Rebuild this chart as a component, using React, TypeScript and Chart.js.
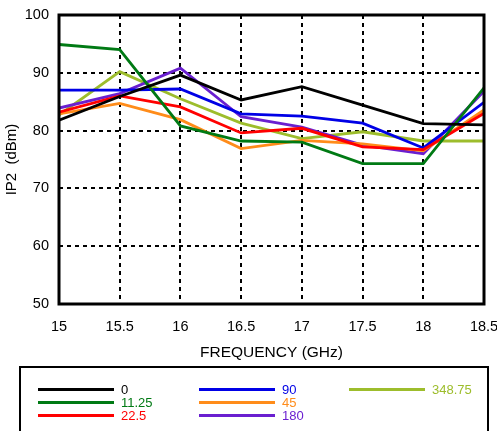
import React, { useEffect, useRef } from "react";
import { Chart, registerables } from "chart.js";

Chart.register(...registerables);

const frequencies = [15, 15.5, 16, 16.5, 17, 17.5, 18, 18.5];
const seriesNames = ["0", "11.25", "22.5", "90", "45", "180", "348.75"];
const seriesColors = ["#000000", "#007a14", "#ff0000", "#0000e6", "#ff8c1a", "#6a1fd0", "#9dbd2c"];
const ip2_0 = [81.8, 85.9, 89.6, 85.3, 87.6, 84.4, 81.2, 81.0];
const ip2_11_25 = [94.9, 94.0, 80.8, 78.2, 78.0, 74.3, 74.3, 87.4];
const ip2_22_5 = [83.2, 86.0, 84.1, 79.6, 80.4, 77.2, 76.7, 83.0];
const ip2_90 = [87.0, 87.0, 87.2, 82.9, 82.5, 81.3, 77.0, 84.9];
const ip2_45 = [82.9, 84.7, 81.9, 76.9, 78.3, 77.7, 76.5, 83.6];
const ip2_180 = [83.9, 86.4, 90.8, 82.4, 80.6, 77.5, 76.0, 86.8];
const ip2_348_75 = [82.7, 90.2, 85.5, 81.3, 78.6, 79.8, 78.2, 78.2];
const seriesValues = [ip2_0, ip2_11_25, ip2_22_5, ip2_90, ip2_45, ip2_180, ip2_348_75];
const xTitle = "FREQUENCY (GHz)";
const yTitle = "IP2  (dBm)";

const FONT = "'Liberation Sans', Arial, Helvetica, sans-serif";

const frameBorder = {
  id: "frameBorder",
  afterDatasetsDraw(chart: any) {
    const { ctx, chartArea } = chart;
    ctx.save();
    ctx.strokeStyle = "#000";
    ctx.lineWidth = 3;
    ctx.strokeRect(chartArea.left, chartArea.top, chartArea.right - chartArea.left, chartArea.bottom - chartArea.top);
    ctx.restore();
  },
};

export default function App() {
  const canvasRef = useRef<HTMLCanvasElement>(null);

  useEffect(() => {
    if (!canvasRef.current) return;
    const chart = new Chart(canvasRef.current, {
      type: "line",
      data: {
        datasets: seriesNames.map((name, i) => ({
          label: name,
          data: frequencies.map((f, j) => ({ x: f, y: seriesValues[i][j] })),
          borderColor: seriesColors[i],
          backgroundColor: seriesColors[i],
          borderWidth: 2.8,
          pointRadius: 0,
          tension: 0,
          fill: false,
        })),
      },
      options: {
        responsive: false,
        animation: false,
        devicePixelRatio: 1,
        layout: { padding: { left: 0, right: 13, top: 15, bottom: 67 } },
        plugins: { legend: { display: false }, tooltip: { enabled: false }, title: { display: false } },
        scales: {
          x: {
            type: "linear",
            min: 15,
            max: 18.5,
            afterFit: (s: any) => {
              s.height = 60;
              s.paddingLeft = 0;
              s.paddingRight = 0;
            },
            ticks: {
              stepSize: 0.5,
              autoSkip: false,
              maxRotation: 0,
              padding: 14,
              color: "#000",
              font: { family: FONT, size: 14.5 },
              callback: (v: any) => String(v),
            },
            grid: { color: "#000", lineWidth: 2, drawTicks: false },
            border: { display: false, dash: [4, 4] },
            title: {
              display: true,
              text: xTitle,
              color: "#000",
              font: { family: FONT, size: 15.5 },
              padding: { top: 0, bottom: 2 },
            },
          },
          y: {
            type: "linear",
            min: 50,
            max: 100,
            afterFit: (s: any) => {
              s.width = 59;
              s.paddingTop = 0;
              s.paddingBottom = 0;
            },
            ticks: {
              stepSize: 10,
              padding: 10,
              color: "#000",
              font: { family: FONT, size: 14.5 },
            },
            grid: { color: "#000", lineWidth: 2, drawTicks: false },
            border: { display: false, dash: [4, 4] },
            title: {
              display: true,
              text: yTitle,
              color: "#000",
              font: { family: FONT, size: 15 },
              padding: { top: 3, bottom: 0 },
            },
          },
        },
      },
      plugins: [frameBorder],
    });
    return () => chart.destroy();
  }, []);

  const colX = [38, 199, 349];
  const rowY = [389.5, 402.5, 415.5];

  return (
    <div style={{ position: "fixed", left: 0, top: 0, width: 497, height: 431, overflow: "hidden", background: "#fff" }}>
      <canvas ref={canvasRef} width={497} height={431} style={{ position: "absolute", left: 0, top: 0 }} />
      <div
        style={{
          position: "absolute",
          left: 19,
          top: 366,
          width: 466,
          height: 90,
          border: "2px solid #000",
          boxSizing: "content-box",
        }}
      />
      {seriesNames.map((name, i) => {
        const col = Math.floor(i / 3);
        const row = i % 3;
        return (
          <React.Fragment key={name}>
            <div
              style={{
                position: "absolute",
                left: colX[col],
                top: rowY[row] - 1.5,
                width: 76,
                height: 3,
                background: seriesColors[i],
              }}
            />
            <div
              style={{
                position: "absolute",
                left: colX[col] + 83,
                top: rowY[row] - 8,
                height: 16,
                lineHeight: "16px",
                fontFamily: FONT,
                fontSize: 13,
                color: seriesColors[i],
                whiteSpace: "nowrap",
              }}
            >
              {name}
            </div>
          </React.Fragment>
        );
      })}
    </div>
  );
}
